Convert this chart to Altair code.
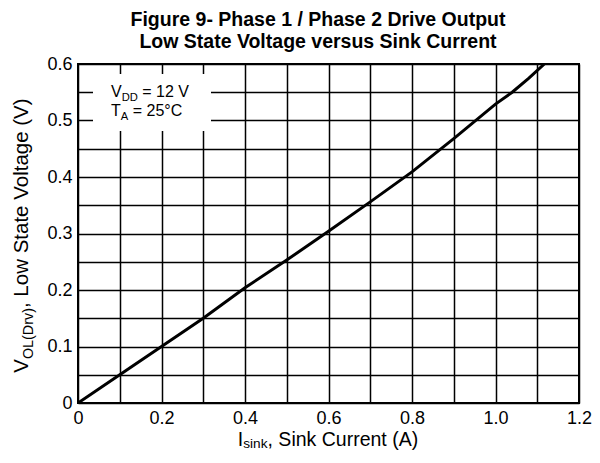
import altair as alt
import pandas as pd

# ---- data ----
current_a = [0, 0.1, 0.2, 0.3, 0.4, 0.5, 0.6, 0.7, 0.8, 0.9, 1.0, 1.04, 1.08, 1.117]
voltage_v = [0, 0.05, 0.1, 0.15, 0.204, 0.253, 0.304, 0.356, 0.409, 0.468, 0.529, 0.55, 0.575, 0.6]

x_ticks = [0, 0.1, 0.2, 0.3, 0.4, 0.5, 0.6, 0.7, 0.8, 0.9, 1.0, 1.1, 1.2]
y_ticks = [0, 0.05, 0.1, 0.15, 0.2, 0.25, 0.3, 0.35, 0.4, 0.45, 0.5, 0.55, 0.6]

title_lines = ["Figure 9- Phase 1 / Phase 2 Drive Output",
               "Low State Voltage versus Sink Current"]
x_title_parts = [("I", False), ("sink", True), (", Sink Current (A)", False)]
y_title_parts = [("V", False), ("OL(Drv)", True), (", Low State Voltage (V)", False)]
note1_parts = [("V", False), ("DD", True), (" = 12 V", False)]
note2_parts = [("T", False), ("A", True), (" = 25°C", False)]

FONT = "Liberation Sans"
W, H = 501, 339

# Arial / Liberation Sans advance widths (per 1000 em)
ADV = {' ': 278, ',': 278, '(': 333, ')': 333, '=': 584, '°': 400, '.': 278,
       '0': 556, '1': 556, '2': 556, '5': 556,
       'A': 667, 'C': 722, 'D': 722, 'I': 278, 'L': 556, 'O': 778, 'S': 667,
       'T': 611, 'V': 667,
       'a': 556, 'e': 556, 'g': 556, 'i': 222, 'k': 500, 'l': 222, 'n': 556,
       'o': 556, 'r': 333, 's': 500, 't': 278, 'u': 556, 'v': 500, 'w': 722}


def tw(text, size):
    return sum(ADV.get(c, 556) for c in text) / 1000.0 * size


one = pd.DataFrame({"k": [0]})


def seg(text, x, y, size, angle=0, align="left", weight="normal", line_height=None):
    kw = dict(text=text, align=align, baseline="alphabetic", font=FONT,
              fontSize=size, angle=angle, color="black", fontWeight=weight)
    if line_height is not None:
        kw["lineHeight"] = line_height
    return alt.Chart(one).mark_text(**kw).encode(x=alt.value(x), y=alt.value(y))


def rich_width(parts, f):
    return sum(tw(t, f * 0.7 if s else f) for t, s in parts)


def rich_h(parts, x0, y0, f, shift):
    out, x = [], x0
    for t, s in parts:
        fs = f * 0.7 if s else f
        lead = len(t) - len(t.lstrip(" "))
        x += tw(" " * lead, fs)
        t = t.lstrip(" ")
        out.append(seg(t, x, y0 + (shift if s else 0), fs))
        x += tw(t, fs)
    return out


def rich_v(parts, xb, y0, f, shift):
    out, y = [], y0
    for t, s in parts:
        fs = f * 0.7 if s else f
        lead = len(t) - len(t.lstrip(" "))
        y -= tw(" " * lead, fs)
        t = t.lstrip(" ")
        out.append(seg(t, xb + (shift if s else 0), y, fs, angle=270))
        y -= tw(t, fs)
    return out


df = pd.DataFrame({"I": current_a, "V": voltage_v})

axis_common = dict(grid=True, gridColor="black", gridWidth=1.5, gridOpacity=1,
                   ticks=False, tickSize=0, domain=False, title=None,
                   labelFont=FONT, labelFontSize=18, labelColor="black",
                   labelOverlap=False, labelFlush=False)

line = alt.Chart(df).mark_line(color="black", strokeWidth=3, clip=True).encode(
    x=alt.X("I:Q", scale=alt.Scale(domain=[0, 1.2], nice=False),
            axis=alt.Axis(values=x_ticks, labelPadding=6,
                          labelExpr="round(datum.value*10) % 2 == 0 ? (datum.value == 0 ? '0' : format(datum.value, '.1f')) : ''",
                          **axis_common)),
    y=alt.Y("V:Q", scale=alt.Scale(domain=[0, 0.6], nice=False),
            axis=alt.Axis(values=y_ticks, labelPadding=6,
                          labelExpr="round(datum.value*100) % 10 == 0 ? (datum.value == 0 ? '0' : format(datum.value, '.1f')) : ''",
                          **axis_common)),
)

box = alt.Chart(one).mark_rect(fill="white").encode(
    x=alt.value(15), x2=alt.value(133), y=alt.value(10), y2=alt.value(67))

XF = 19.5
YF = 20.5
xw = rich_width(x_title_parts, XF)
yw = rich_width(y_title_parts, YF)

layers = [box, line]
layers += rich_h(note1_parts, 33, 33, 16, 4)
layers += rich_h(note2_parts, 33, 52, 16, 4)
layers += rich_h(x_title_parts, 250 - xw / 2, 382, XF, 2)
layers += rich_v(y_title_parts, -50, 171 + yw / 2, YF, 4.5)
layers += [seg(title_lines, 240, -38.2, 19.5, align="center", weight="bold",
               line_height=22)]

chart = alt.layer(*layers).properties(
    width=W, height=H,
    padding={"left": 70, "top": 56, "right": 13, "bottom": 48},
    autosize=alt.AutoSizeParams(type="none"),
).configure_view(stroke="black", strokeWidth=2)

chart.save("out.html", embed_options={"renderer": "svg", "actions": False})
